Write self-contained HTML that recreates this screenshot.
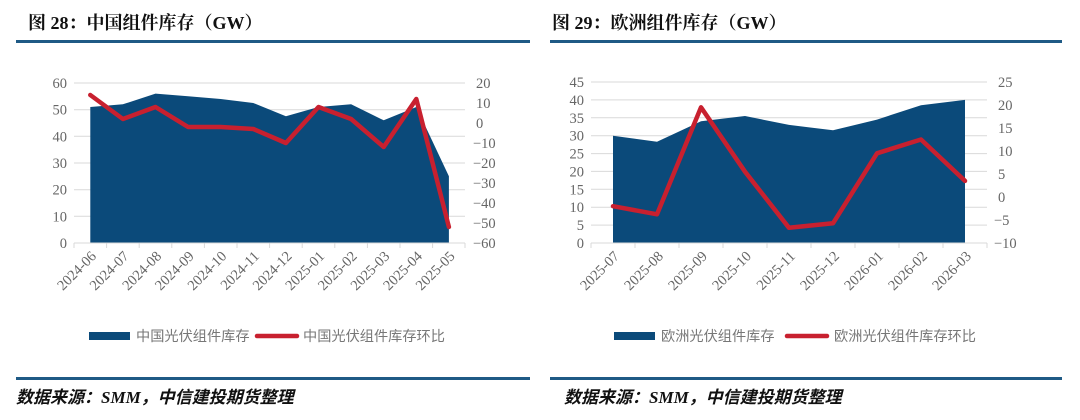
<!DOCTYPE html>
<html><head><meta charset="utf-8"><style>
body{margin:0;background:#fff;width:1080px;height:420px;overflow:hidden}
svg{display:block}
.t{font-family:"Liberation Serif","Noto Serif CJK SC","Noto Sans CJK SC",serif;font-weight:bold;font-size:18px;fill:#111}
.ax{font-family:"Liberation Serif",serif;font-size:14.5px;fill:#666}
.lg{font-family:"Liberation Sans","Noto Sans CJK SC",sans-serif;font-size:14.2px;fill:#777}
.ft{font-family:"Liberation Serif","Noto Sans CJK SC",serif;font-weight:bold;font-style:italic;font-size:17px;fill:#111}
</style></head><body>
<svg width="1080" height="420" xmlns="http://www.w3.org/2000/svg">
<text class="t" x="28" y="29">图 28：中国组件库存（GW）</text>
<text class="t" x="552" y="29">图 29：欧洲组件库存（GW）</text>
<rect x="16" y="40" width="514" height="3" fill="#1f5a85"/>
<rect x="550" y="40" width="512" height="3" fill="#1f5a85"/>
<rect x="16" y="377" width="514" height="3" fill="#1f5a85"/>
<rect x="550" y="377" width="512" height="3" fill="#1f5a85"/>
<text class="ft" x="16" y="403">数据来源：SMM，中信建投期货整理</text>
<text class="ft" x="564" y="403">数据来源：SMM，中信建投期货整理</text>

<!-- Chart 1 -->
<g stroke="#d9d9d9" stroke-width="1">
<line x1="74" x2="465" y1="83" y2="83"/><line x1="74" x2="465" y1="109.7" y2="109.7"/><line x1="74" x2="465" y1="136.3" y2="136.3"/><line x1="74" x2="465" y1="163" y2="163"/><line x1="74" x2="465" y1="189.7" y2="189.7"/><line x1="74" x2="465" y1="216.3" y2="216.3"/>
</g>
<polygon fill="#0b4a7a" points="90.3,243 90.3,107 122.9,104.3 155.5,93.6 188.1,96.3 220.7,99 253.3,103 285.9,116.3 318.5,107 351.1,104.3 383.7,120.3 416.3,107 448.9,176.3 448.9,243"/>
<g stroke="#d9d9d9"><line x1="74" x2="465" y1="243" y2="243"/>
<line x1="74" x2="74" y1="243" y2="248"/><line x1="106.6" x2="106.6" y1="243" y2="248"/><line x1="139.2" x2="139.2" y1="243" y2="248"/><line x1="171.8" x2="171.8" y1="243" y2="248"/><line x1="204.4" x2="204.4" y1="243" y2="248"/><line x1="237" x2="237" y1="243" y2="248"/><line x1="269.6" x2="269.6" y1="243" y2="248"/><line x1="302.2" x2="302.2" y1="243" y2="248"/><line x1="334.8" x2="334.8" y1="243" y2="248"/><line x1="367.4" x2="367.4" y1="243" y2="248"/><line x1="400" x2="400" y1="243" y2="248"/><line x1="432.6" x2="432.6" y1="243" y2="248"/><line x1="465" x2="465" y1="243" y2="248"/></g>
<polyline fill="none" stroke="#c8202f" stroke-width="4.5" stroke-linejoin="round" stroke-linecap="round" points="90.3,95 122.9,119 155.5,107 188.1,127 220.7,127 253.3,129 285.9,143 318.5,107 351.1,119 383.7,147 416.3,99 448.9,227"/>
<g class="ax" text-anchor="end">
<text x="67" y="88">60</text><text x="67" y="114.7">50</text><text x="67" y="141.3">40</text><text x="67" y="168">30</text><text x="67" y="194.7">20</text><text x="67" y="221.3">10</text><text x="67" y="248">0</text>
</g>
<g class="ax" text-anchor="start">
<text x="476" y="88">20</text><text x="476" y="108">10</text><text x="476" y="128">0</text><text x="473" y="148">−10</text><text x="473" y="168">−20</text><text x="473" y="188">−30</text><text x="473" y="208">−40</text><text x="473" y="228">−50</text><text x="473" y="248">−60</text>
</g>
<g class="ax" text-anchor="end">
<text transform="translate(97,257) rotate(-45)">2024-06</text>
<text transform="translate(129.6,257) rotate(-45)">2024-07</text>
<text transform="translate(162.2,257) rotate(-45)">2024-08</text>
<text transform="translate(194.8,257) rotate(-45)">2024-09</text>
<text transform="translate(227.4,257) rotate(-45)">2024-10</text>
<text transform="translate(260,257) rotate(-45)">2024-11</text>
<text transform="translate(292.6,257) rotate(-45)">2024-12</text>
<text transform="translate(325.2,257) rotate(-45)">2025-01</text>
<text transform="translate(357.8,257) rotate(-45)">2025-02</text>
<text transform="translate(390.4,257) rotate(-45)">2025-03</text>
<text transform="translate(423,257) rotate(-45)">2025-04</text>
<text transform="translate(455.6,257) rotate(-45)">2025-05</text>
</g>
<rect x="89" y="332" width="41" height="8" fill="#0b4a7a"/>
<text class="lg" x="136" y="341">中国光伏组件库存</text>
<line x1="257" x2="297" y1="336" y2="336" stroke="#c8202f" stroke-width="4.5" stroke-linecap="round"/>
<text class="lg" x="303" y="341">中国光伏组件库存环比</text>

<!-- Chart 2 -->
<g stroke="#d9d9d9" stroke-width="1">
<line x1="591" x2="987" y1="82" y2="82"/><line x1="591" x2="987" y1="99.9" y2="99.9"/><line x1="591" x2="987" y1="117.8" y2="117.8"/><line x1="591" x2="987" y1="135.7" y2="135.7"/><line x1="591" x2="987" y1="153.6" y2="153.6"/><line x1="591" x2="987" y1="171.4" y2="171.4"/><line x1="591" x2="987" y1="189.3" y2="189.3"/><line x1="591" x2="987" y1="207.2" y2="207.2"/><line x1="591" x2="987" y1="225.1" y2="225.1"/>
</g>
<polygon fill="#0b4a7a" points="613,243 613,135.7 657,141.7 701,121.3 745,116 789,124.9 833,130.3 877,119.6 921,105.2 965,99.9 965,243"/>
<g stroke="#d9d9d9"><line x1="591" x2="987" y1="243" y2="243"/>
<line x1="591" x2="591" y1="243" y2="248"/><line x1="635" x2="635" y1="243" y2="248"/><line x1="679" x2="679" y1="243" y2="248"/><line x1="723" x2="723" y1="243" y2="248"/><line x1="767" x2="767" y1="243" y2="248"/><line x1="811" x2="811" y1="243" y2="248"/><line x1="855" x2="855" y1="243" y2="248"/><line x1="899" x2="899" y1="243" y2="248"/><line x1="943" x2="943" y1="243" y2="248"/><line x1="987" x2="987" y1="243" y2="248"/></g>
<polyline fill="none" stroke="#c8202f" stroke-width="4.5" stroke-linejoin="round" stroke-linecap="round" points="613,206.2 657,214.3 701,107.3 745,171.7 789,227.8 833,223.3 877,153.3 921,139.5 965,180.9"/>
<g class="ax" text-anchor="end">
<text x="584" y="87">45</text><text x="584" y="104.9">40</text><text x="584" y="122.8">35</text><text x="584" y="140.7">30</text><text x="584" y="158.6">25</text><text x="584" y="176.4">20</text><text x="584" y="194.3">15</text><text x="584" y="212.2">10</text><text x="584" y="230.1">5</text><text x="584" y="248">0</text>
</g>
<g class="ax" text-anchor="start">
<text x="998" y="87">25</text><text x="998" y="110">20</text><text x="998" y="133">15</text><text x="998" y="156">10</text><text x="998" y="179">5</text><text x="998" y="202">0</text><text x="994" y="225">−5</text><text x="994" y="248">−10</text>
</g>
<g class="ax" text-anchor="end">
<text transform="translate(620,257) rotate(-45)">2025-07</text>
<text transform="translate(664,257) rotate(-45)">2025-08</text>
<text transform="translate(708,257) rotate(-45)">2025-09</text>
<text transform="translate(752,257) rotate(-45)">2025-10</text>
<text transform="translate(796,257) rotate(-45)">2025-11</text>
<text transform="translate(840,257) rotate(-45)">2025-12</text>
<text transform="translate(884,257) rotate(-45)">2026-01</text>
<text transform="translate(928,257) rotate(-45)">2026-02</text>
<text transform="translate(972,257) rotate(-45)">2026-03</text>
</g>
<rect x="614" y="332" width="41" height="8" fill="#0b4a7a"/>
<text class="lg" x="661" y="341">欧洲光伏组件库存</text>
<line x1="787" x2="827" y1="336" y2="336" stroke="#c8202f" stroke-width="4.5" stroke-linecap="round"/>
<text class="lg" x="834" y="341">欧洲光伏组件库存环比</text>
</svg>
</body></html>
